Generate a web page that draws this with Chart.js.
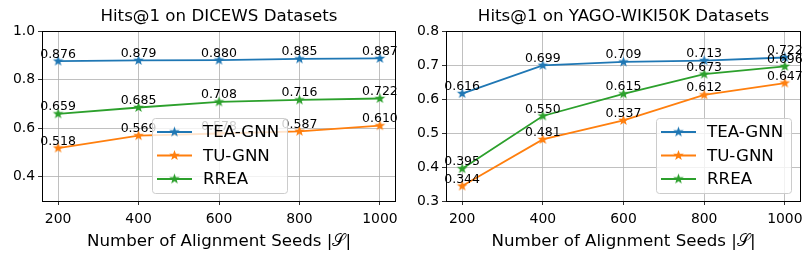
<!DOCTYPE html>
<html>
<head>
<meta charset="utf-8">
<script src="https://cdn.jsdelivr.net/npm/chart.js@4.4.0/dist/chart.umd.min.js"></script>
<style>
  body { margin: 0; background: #fff; }
  canvas { position: absolute; top: 0; }
</style>
</head>
<body>
<canvas id="g1" width="405" height="261" style="left:0"></canvas>
<canvas id="g2" width="406" height="261" style="left:405px"></canvas>
<script>
// --- Datos ---
const seeds = [200, 400, 600, 800, 1000];
const modelos = ['TEA-GNN', 'TU-GNN', 'RREA'];

const dicewsTea  = [0.876, 0.879, 0.880, 0.885, 0.887];
const dicewsTu   = [0.518, 0.569, 0.578, 0.587, 0.610];
const dicewsRrea = [0.659, 0.685, 0.708, 0.716, 0.722];

const yagoTea  = [0.616, 0.699, 0.709, 0.713, 0.722];
const yagoTu   = [0.344, 0.481, 0.537, 0.612, 0.647];
const yagoRrea = [0.395, 0.550, 0.615, 0.673, 0.696];

const dicewsTicks = [0.4, 0.6, 0.8, 1.0];
const yagoTicks = [0.3, 0.4, 0.5, 0.6, 0.7, 0.8];

const colores = ['#1f77b4', '#ff7f0e', '#2ca02c'];
const FUENTE = 'DejaVu Sans';

// estrella rellena tipo matplotlib '*'
function estrella(color) {
    const c = document.createElement('canvas');
    c.width = 13; c.height = 13;
    const g = c.getContext('2d');
    g.beginPath();
    for (let i = 0; i < 10; i++) {
        const r = i % 2 === 0 ? 5.6 : 2.3;
        const a = -Math.PI / 2 + i * Math.PI / 5;
        const x = 6.5 + r * Math.cos(a), y = 6.5 + r * Math.sin(a);
        i === 0 ? g.moveTo(x, y) : g.lineTo(x, y);
    }
    g.closePath();
    g.fillStyle = color;
    g.fill();
    return c;
}
const estrellas = colores.map(estrella);

// plugin: etiquetas de valores, marco, leyenda y título
const extras = {
    id: 'extras',
    afterDatasetsDraw(chart) {
        const ctx = chart.ctx;
        ctx.save();
        ctx.font = '12.5px "' + FUENTE + '"';
        ctx.fillStyle = '#000';
        ctx.textAlign = 'center';
        ctx.textBaseline = 'alphabetic';
        chart.data.datasets.forEach((ds, i) => {
            chart.getDatasetMeta(i).data.forEach((pt, j) => {
                ctx.fillText(ds.data[j].y.toFixed(3), pt.x, pt.y - 3.5);
            });
        });
        ctx.restore();
    },
    afterDraw(chart, args, opts) {
        const ctx = chart.ctx;
        const a = chart.chartArea;
        ctx.save();
        // marco
        ctx.strokeStyle = '#000';
        ctx.lineWidth = 1;
        ctx.strokeRect(Math.round(a.left) + 0.5, Math.round(a.top) + 0.5,
                       Math.round(a.right - a.left) - 1, Math.round(a.bottom - a.top));
        // título
        ctx.font = '16.67px "' + FUENTE + '"';
        ctx.fillStyle = '#000';
        ctx.textAlign = 'center';
        ctx.textBaseline = 'middle';
        ctx.fillText(opts.titulo, (a.left + a.right) / 2, 17);
        // leyenda
        const lx = opts.legX, ly = opts.legY, lw = 135, lh = 75;
        ctx.beginPath();
        ctx.roundRect(lx + 0.5, ly + 0.5, lw, lh, 3);
        ctx.fillStyle = 'rgba(255,255,255,0.8)';
        ctx.fill();
        ctx.strokeStyle = '#cccccc';
        ctx.stroke();
        ctx.font = '16.67px "' + FUENTE + '"';
        ctx.textAlign = 'left';
        modelos.forEach((m, i) => {
            const y = ly + 14 + i * 23.5;
            ctx.strokeStyle = colores[i];
            ctx.lineWidth = 2;
            ctx.beginPath();
            ctx.moveTo(lx + 5, y);
            ctx.lineTo(lx + 40, y);
            ctx.stroke();
            ctx.drawImage(estrellas[i], lx + 22.5 - 6.5, y - 6.5);
            ctx.fillStyle = '#000';
            ctx.fillText(m, lx + 51, y + 1);
        });
        ctx.restore();
    }
};

function crearGrafico(id, series, yMin, yMax, yTicks, titulo, anchoY, derecha, legX, legY) {
    return new Chart(document.getElementById(id), {
        type: 'line',
        data: {
            datasets: series.map((s, i) => ({
                label: modelos[i],
                data: s.map((v, j) => ({ x: seeds[j], y: v })),
                borderColor: colores[i],
                backgroundColor: colores[i],
                borderWidth: 1.8,
                pointStyle: estrellas[i],
                tension: 0
            }))
        },
        options: {
            responsive: false,
            animation: false,
            devicePixelRatio: 1,
            layout: { padding: { top: 31, right: derecha, left: 0, bottom: 0 } },
            plugins: {
                legend: { display: false },
                title: { display: false },
                tooltip: { enabled: false },
                extras: { titulo: titulo, legX: legX, legY: legY }
            },
            scales: {
                x: {
                    type: 'linear',
                    min: 160, max: 1040,
                    afterBuildTicks: s => { s.ticks = seeds.map(v => ({ value: v })); },
                    afterFit: s => { s.height = 60; },
                    grid: { color: '#b0b0b0', lineWidth: 0.8, tickLength: 4, tickColor: '#000' },
                    border: { display: false },
                    ticks: {
                        color: '#000', padding: 6, maxRotation: 0,
                        font: { family: FUENTE, size: 13.9 },
                        callback: v => String(v)
                    },
                    title: {
                        display: true,
                        text: 'Number of Alignment Seeds |𝒮|',
                        color: '#000',
                        font: { family: FUENTE, size: 16.67 },
                        padding: { top: 0, bottom: 9 }
                    }
                },
                y: {
                    min: yMin, max: yMax,
                    afterBuildTicks: s => { s.ticks = yTicks.map(v => ({ value: v })); },
                    afterFit: s => { s.width = anchoY; },
                    grid: { color: '#b0b0b0', lineWidth: 0.8, tickLength: 4, tickColor: '#000' },
                    border: { display: false },
                    ticks: {
                        color: '#000', padding: 3,
                        font: { family: FUENTE, size: 13.9 },
                        callback: v => v.toFixed(1)
                    }
                }
            }
        },
        plugins: [extras]
    });
}

crearGrafico('g1', [dicewsTea, dicewsTu, dicewsRrea], 0.3, 1.0, dicewsTicks,
             'Hits@1 on DICEWS Datasets', 42, 9, 152, 118);
crearGrafico('g2', [yagoTea, yagoTu, yagoRrea], 0.3, 0.8, yagoTicks,
             'Hits@1 on YAGO-WIKI50K Datasets', 41, 10, 251, 118);
</script>
</body>
</html>
